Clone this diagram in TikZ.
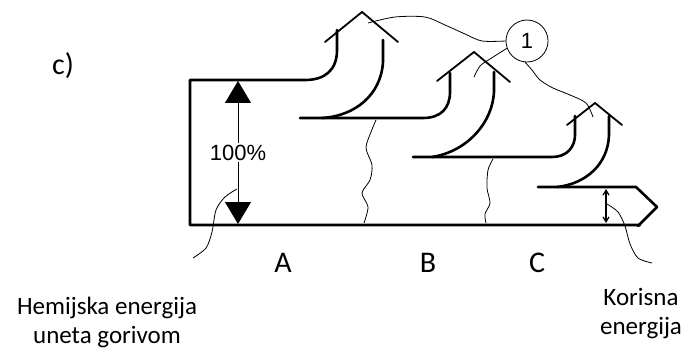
\documentclass[tikz,border=0pt]{standalone}
\usepackage{fontspec}
\setmainfont{Carlito}
\newfontfamily\arialfont{Liberation Sans}
\usetikzlibrary{arrows.meta, positioning}

\begin{document}
\begin{tikzpicture}[x=1pt, y=-1pt, >=stealth,
    band/.style={line width=2.6pt, line cap=round, line join=round},
    barb/.style={line width=1.8pt, line cap=round},
    thinline/.style={line width=0.8pt},
    lbl/.style={font=\fontsize{25}{29}\selectfont, align=center, inner sep=0pt},
    big/.style={font=\fontsize{30}{34}\selectfont, inner sep=0pt}]
    \useasboundingbox (0,0) rectangle (685,350);
    % energy bands
    \draw[band] (337,30) -- (337,50) .. controls (337,70) and (325,80) .. (305,80) -- (190,80) -- (190,225) -- (640,225);
    \draw[band] (383,40) -- (383,62) .. controls (381,95) and (355,116) .. (322,118);
    \draw[band] (300,118) -- (423,118) .. controls (441,118) and (450,108) .. (450,92) -- (450,73);
    \draw[band] (494,72) -- (494,92) .. controls (492,125) and (465,152) .. (432,157);
    \draw[band] (413,157) -- (552,157) .. controls (567,157) and (575,147) .. (575,135) -- (575,116);
    \draw[band] (609,116) -- (609,135) .. controls (608,165) and (585,184) .. (557,187);
    \draw[band] (538,187) -- (636,187) -- (657,207) -- (638,226);
    \draw[barb] (325,42) -- (362,12) -- (398,42);
    \draw[barb] (437,81) -- (474,52) -- (510,82);
    \draw[barb] (567,125) -- (595,103) -- (622,125);
    % 100%
    \draw[line width=1pt, {Triangle[width=26pt,length=22pt]}-{Triangle[width=26pt,length=22pt]}] (238,81) -- (238,224)
        node[midway, fill=white, inner sep=2pt, font=\arialfont\fontsize{22}{24}\selectfont] (pct) {100\%};
    \draw[line width=1.2pt, {Straight Barb[length=5pt,width=6pt]}-{Straight Barb[length=5pt,width=6pt]}] (606,189) -- (606,223);
    % losses
    \draw[thinline] plot[smooth] coordinates {(376,120) (371,132) (366,148) (372,165) (370,180) (362,193) (368,207) (364,223)};
    \draw[thinline] plot[smooth] coordinates {(493,159) (488,170) (487,188) (490,203) (485,214) (486,223)};
    \node[draw, circle, thinline, minimum size=42pt, inner sep=0pt, font=\arialfont\fontsize{22}{24}\selectfont] (one) at (527,41) {1};
    \coordinate (tipa) at (368,23);
    \coordinate (tipb) at (474,77);
    \coordinate (tipc) at (593,117);
    \draw[thinline] plot[smooth] coordinates {(one.west) (482,41) (465,34) (445,25) (425,17) (395,17) (tipa)};
    \draw[thinline] plot[smooth] coordinates {(one.200) (490,59) (480,66) (tipb)};
    \draw[thinline] plot[smooth] coordinates {(one.265) (532,70) (540,80) (553,88) (570,95) (586,103) (tipc)};
    % labels
    \node[big] (cap) at (63,66) {c)};
    \node[big] (a) at (283,263) {A};
    \node[big] (b) at (428,263) {B};
    \node[big] (c) at (537,263) {C};
    \node[lbl] (hem) at (107,322) {Hemijska energija\\uneta gorivom};
    \node[lbl] (kor) at (641,314) {Korisna\\energija};
    \coordinate (srch) at (237,189);
    \coordinate (endh) at (193,258);
    \coordinate (srck) at (607,204);
    \coordinate (endk) at (652,263);
    \draw[thinline] plot[smooth] coordinates {(srch) (225,197) (216,210) (212,232) (206,248) (endh)};
    \draw[thinline] plot[smooth] coordinates {(srck) (618,212) (625,226) (630,244) (638,258) (endk)};
\end{tikzpicture}
\end{document}
